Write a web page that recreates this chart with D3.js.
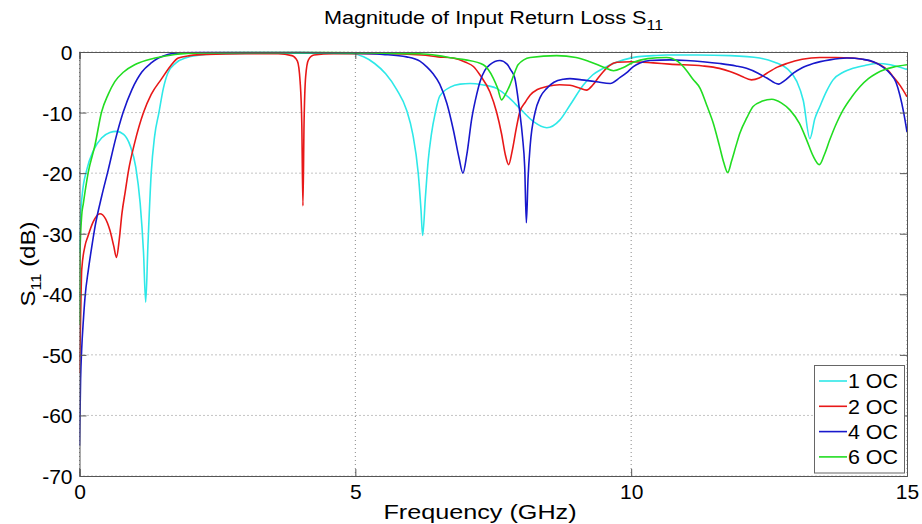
<!DOCTYPE html>
<html>
<head>
<meta charset="utf-8">
<script src="https://cdn.jsdelivr.net/npm/d3@7"></script>
<style>
  html, body { margin: 0; padding: 0; background: #fff; }
  svg text { font-family: Arial, "Liberation Sans", sans-serif; fill: #000; }
</style>
</head>
<body>
<svg id="chart" width="922" height="524"></svg>
<script>
// ---- Data ----
const titleMain = "Magnitude of Input Return Loss S";
const titleSub = "11";
const xLabel = "Frequency (GHz)";
const yLabelMain = "S";
const yLabelSub = "11";
const yLabelTail = " (dB)";
const xTicks = [0, 5, 10, 15];
const yTicks = [0, -10, -20, -30, -40, -50, -60, -70];
const seriesNames = ["1 OC", "2 OC", "4 OC", "6 OC"];
const seriesColors = ["#2ee8e8", "#e81818", "#1818cc", "#22dd22"];

const freq1 = [0.0,0.02,0.05,0.13,0.25,0.4,0.55,0.67,0.8,0.92,1.02,1.1,1.16,1.2,1.24,1.3,1.36,1.44,1.52,1.6,1.75,1.95,2.2,2.6,3.5,4.5,4.95,5.15,5.35,5.55,5.75,5.93,6.04,6.14,6.19,6.22,6.27,6.32,6.38,6.45,6.53,6.72,6.9,7.08,7.3,7.56,7.78,7.98,8.23,8.47,8.71,8.89,9.13,9.3,9.49,9.86,10.1,10.4,10.64,11.2,11.8,12.33,12.6,12.82,13.0,13.12,13.24,13.33,13.42,13.54,13.66,13.85,14.02,14.25,14.45,14.7,15.0];
const db1   = [-33,-27,-23.5,-19.5,-16.3,-14.2,-13.3,-13.1,-13.6,-15.5,-19,-25,-33,-41.3,-32,-20,-14,-10,-6,-3.5,-1.8,-0.9,-0.5,-0.3,-0.2,-0.2,-0.3,-0.8,-1.9,-3.6,-6.2,-9.6,-13.5,-20,-26,-30.3,-24,-18,-13.5,-10,-7.3,-5.8,-5.3,-5.2,-5.4,-6.0,-7.5,-9.3,-11.5,-12.5,-11.2,-8.8,-5.5,-3.8,-2.7,-1.3,-0.8,-0.6,-0.5,-0.5,-0.6,-1.0,-1.7,-2.7,-4.8,-8,-14.3,-11,-9,-6.5,-4.6,-3.3,-2.7,-2.2,-1.9,-2.1,-2.9];

const freq2 = [0.0,0.02,0.04,0.1,0.15,0.25,0.37,0.47,0.55,0.62,0.67,0.72,0.77,0.83,0.89,1.0,1.16,1.3,1.49,1.65,1.79,2.0,2.3,3.0,3.6,3.85,3.95,4.0,4.03,4.05,4.07,4.1,4.15,4.25,4.6,5.5,6.2,6.5,6.77,7.0,7.14,7.26,7.44,7.56,7.65,7.72,7.78,7.84,7.92,7.98,8.08,8.17,8.3,8.47,8.7,8.89,9.05,9.19,9.3,9.4,9.49,9.6,9.74,10.0,10.4,10.7,11.3,11.6,11.79,12.0,12.18,12.32,12.46,12.65,12.82,13.1,13.42,13.7,14.02,14.3,14.51,14.65,14.75,14.88,15.0];
const db2   = [-53,-44,-36,-32,-30.5,-28,-26.7,-27.5,-29.4,-32,-33.9,-31,-26.6,-23,-19.5,-15,-10,-7,-4.4,-2.3,-1.0,-0.6,-0.4,-0.3,-0.3,-0.6,-1.5,-5,-12,-25.4,-12,-4,-1.3,-0.5,-0.3,-0.3,-0.5,-0.8,-1.0,-1.7,-2.4,-3.8,-6.6,-9.9,-13.5,-17,-18.6,-16.5,-12.5,-9.9,-8.3,-7.1,-6.2,-5.7,-5.4,-5.5,-5.9,-6.3,-5.5,-4.3,-3.3,-2.3,-1.7,-1.6,-1.8,-2.0,-2.3,-2.7,-3.2,-4.0,-4.6,-4.3,-3.5,-2.5,-1.9,-1.2,-0.9,-0.9,-1.0,-1.4,-2.1,-3.0,-4.1,-5.6,-7.4];

const freq4 = [0.0,0.02,0.04,0.07,0.1,0.16,0.22,0.28,0.4,0.52,0.65,0.79,0.95,1.13,1.3,1.43,1.6,1.8,2.5,4.0,5.0,5.5,5.93,6.17,6.3,6.41,6.53,6.66,6.78,6.88,6.95,7.02,7.11,7.2,7.26,7.35,7.44,7.62,7.75,7.82,7.89,7.98,8.03,8.07,8.1,8.13,8.17,8.26,8.35,8.47,8.6,8.77,8.89,9.1,9.37,9.62,9.8,9.92,10.04,10.16,10.34,10.7,11.0,11.3,11.61,11.9,12.09,12.3,12.46,12.67,12.8,12.94,13.1,13.3,13.6,13.91,14.2,14.39,14.55,14.69,14.8,14.87,14.94,15.0];
const db4   = [-65,-54,-49,-44.3,-40.5,-36,-32.3,-28.9,-23.9,-19.5,-14.5,-10,-6.2,-3.3,-1.8,-1.0,-0.4,-0.15,-0.1,-0.1,-0.2,-0.4,-0.8,-1.5,-2.5,-3.6,-5.3,-8.5,-13,-17.5,-20.0,-17,-11,-7,-4.9,-3.0,-2.1,-1.4,-2.0,-3,-4.3,-9.9,-14,-19,-28.2,-21,-15.4,-9.9,-7.5,-6.0,-5.0,-4.5,-4.4,-4.6,-4.9,-5.2,-4.2,-3.4,-2.4,-1.8,-1.4,-1.3,-1.4,-1.6,-1.9,-2.3,-2.7,-3.5,-4.3,-5.3,-4.6,-3.5,-2.6,-1.9,-1.3,-1.0,-1.2,-1.6,-2.4,-3.5,-5.0,-7.1,-10,-13.2];

const freq6 = [0.0,0.01,0.04,0.07,0.16,0.28,0.4,0.52,0.64,0.8,1.0,1.2,1.37,1.73,2.2,3.0,4.5,5.5,6.17,6.5,6.77,7.0,7.32,7.5,7.58,7.65,7.72,7.8,7.88,7.95,8.17,8.65,9.0,9.25,9.5,9.68,9.85,10.04,10.3,10.64,10.85,11.0,11.12,11.25,11.37,11.49,11.6,11.68,11.75,11.82,11.9,11.97,12.1,12.21,12.38,12.55,12.72,12.88,13.05,13.18,13.3,13.41,13.5,13.6,13.72,13.84,14.0,14.15,14.3,14.45,14.6,14.75,15.0];
const db6   = [-45,-33,-27,-25,-19.8,-15.4,-9.9,-7,-4.9,-3.3,-2.1,-1.4,-1.0,-0.4,-0.15,-0.1,-0.1,-0.2,-0.3,-0.6,-1.0,-1.3,-2.1,-4.3,-6,-7.9,-7,-5.5,-3.6,-2.1,-0.9,-0.6,-0.9,-1.6,-2.5,-3.1,-2.6,-1.7,-1.1,-0.9,-1.6,-3.0,-4.5,-6.0,-8.8,-11.8,-15.5,-18.3,-19.9,-18,-15.5,-13.4,-10.8,-9,-8.1,-7.8,-8.4,-9.6,-11.8,-14.5,-17.2,-18.6,-17,-14.5,-11.8,-9.6,-7.4,-5.7,-4.4,-3.5,-2.9,-2.5,-2.1];

const seriesFreq = [freq1, freq2, freq4, freq6];
const seriesDb = [db1, db2, db4, db6];

// ---- Layout ----
const svg = d3.select("#chart");
const plot = { left: 79.5, top: 52, right: 907, bottom: 476 };
const x = d3.scaleLinear().domain([0, 15]).range([plot.left, plot.right]);
const y = d3.scaleLinear().domain([-70, 0]).range([plot.bottom, plot.top]);
const axisColor = "#555";
const tickLen = 7;

// grid
const grid = svg.append("g");
xTicks.forEach(t => {
  grid.append("line").attr("x1", x(t)).attr("x2", x(t)).attr("y1", plot.top).attr("y2", plot.bottom)
    .attr("stroke", "#888").attr("stroke-width", 1).attr("stroke-dasharray", "1,3");
});
yTicks.forEach(t => {
  grid.append("line").attr("x1", plot.left).attr("x2", plot.right).attr("y1", y(t)).attr("y2", y(t))
    .attr("stroke", "#888").attr("stroke-width", 1).attr("stroke-dasharray", "1,3");
});

// clip
svg.append("defs").append("clipPath").attr("id", "clip").append("rect")
  .attr("x", plot.left).attr("y", plot.top - 1).attr("width", plot.right - plot.left).attr("height", plot.bottom - plot.top + 1);

const line = d3.line().x(d => x(d[0])).y(d => y(d[1])).curve(d3.curveMonotoneX);
const lines = svg.append("g").attr("clip-path", "url(#clip)");
seriesFreq.forEach((fs, i) => {
  const pts = fs.map((f, j) => [f, seriesDb[i][j]]);
  lines.append("path").datum(pts).attr("d", line).attr("fill", "none")
    .attr("stroke", seriesColors[i]).attr("stroke-width", 1.6).attr("stroke-linejoin", "round");
});

// axes with inward ticks (MATLAB style)
const fmt = d => d3.format("d")(d).replace("\u2212", "-");
const xAxisB = d3.axisBottom(x).tickValues(xTicks).tickSize(-tickLen).tickPadding(8).tickFormat(fmt);
const xAxisT = d3.axisTop(x).tickValues(xTicks).tickSize(-tickLen).tickFormat("");
const yAxisL = d3.axisLeft(y).tickValues(yTicks).tickSize(-tickLen).tickPadding(7).tickFormat(fmt);
const yAxisR = d3.axisRight(y).tickValues(yTicks).tickSize(-tickLen).tickFormat("");

function styleAxis(g) {
  g.select(".domain").attr("stroke", axisColor);
  g.selectAll(".tick line").attr("stroke", axisColor);
  g.selectAll("text").style("font-family", "Arial, 'Liberation Sans', sans-serif").style("font-size", "21px").attr("fill", "#000");
}
svg.append("g").attr("transform", `translate(0,${plot.bottom})`).call(xAxisB).call(styleAxis);
svg.append("g").attr("transform", `translate(0,${plot.top})`).call(xAxisT).call(styleAxis);
svg.append("g").attr("transform", `translate(${plot.left},0)`).call(yAxisL).call(styleAxis)
  .selectAll("text").attr("dy", "0.36em");
svg.append("g").attr("transform", `translate(${plot.right},0)`).call(yAxisR).call(styleAxis);

// title (reference text is slightly stretched horizontally)
const title = svg.append("text").attr("transform", "translate(493.5,24) scale(1.14,1)").attr("text-anchor", "middle")
  .style("font-size", "19px");
title.append("tspan").text(titleMain);
title.append("tspan").attr("dy", 6).style("font-size", "14px").text(titleSub);

// x label
svg.append("text").attr("transform", "translate(480,519) scale(1.2,1)").attr("text-anchor", "middle")
  .style("font-size", "21px").text(xLabel);

// y label
const yl = svg.append("text").attr("transform", `translate(35,${(plot.top + plot.bottom) / 2}) rotate(-90) scale(1.15,1)`)
  .attr("text-anchor", "middle").style("font-size", "21px");
yl.append("tspan").text(yLabelMain);
yl.append("tspan").attr("dy", 6).style("font-size", "14px").text(yLabelSub);
yl.append("tspan").attr("dy", -6).text(yLabelTail);

// legend
const lg = svg.append("g");
const lgBox = { x: 814.5, y: 365.5, w: 90, h: 107.5 };
lg.append("rect").attr("x", lgBox.x).attr("y", lgBox.y).attr("width", lgBox.w).attr("height", lgBox.h)
  .attr("fill", "#fff").attr("stroke", "#666").attr("stroke-width", 1);
seriesNames.forEach((n, i) => {
  const cy = 381 + i * 25.3;
  lg.append("line").attr("x1", 819).attr("x2", 847).attr("y1", cy).attr("y2", cy)
    .attr("stroke", seriesColors[i]).attr("stroke-width", 1.6);
  lg.append("text").attr("x", 848).attr("y", cy).attr("dy", "0.36em").style("font-size", "20px")
    .attr("textLength", 50).attr("lengthAdjust", "spacingAndGlyphs").text(n);
});
</script>
</body>
</html>
